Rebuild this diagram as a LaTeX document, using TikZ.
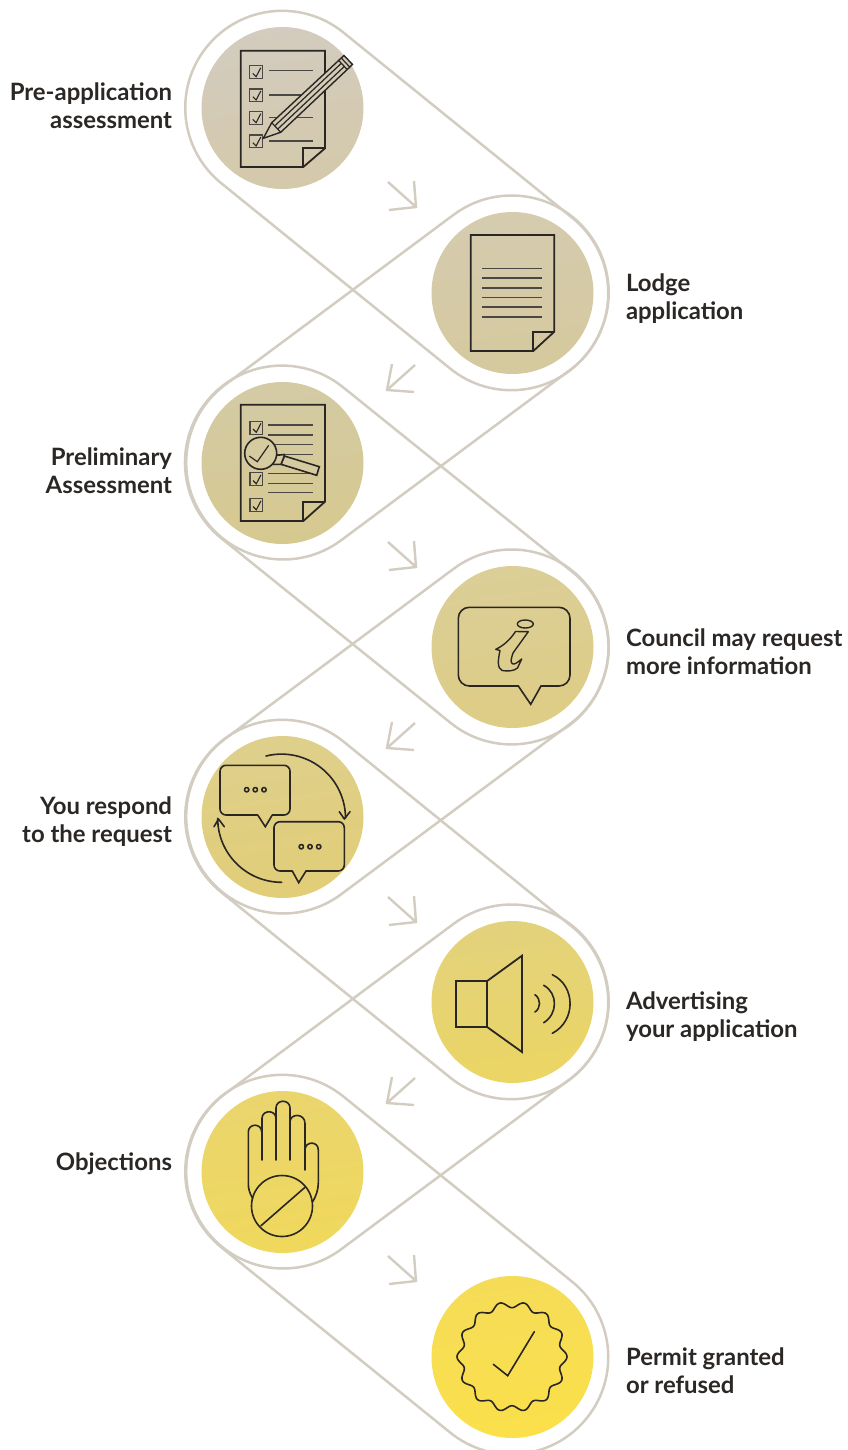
\documentclass[tikz,border=0pt]{standalone}
\usepackage{fontspec}
\setmainfont{Lato}[BoldFont={Lato Bold}]
\definecolor{rim}{HTML}{D3CDC1}
\definecolor{ink}{HTML}{2A2623}
\definecolor{lab}{HTML}{2B2725}
\definecolor{at}{HTML}{D3CCBF}\definecolor{ab}{HTML}{D4C9AA}
\definecolor{bt}{HTML}{D5CBAF}\definecolor{bb}{HTML}{D5C99D}
\definecolor{ct}{HTML}{D4CAA5}\definecolor{cb}{HTML}{D6C98F}
\definecolor{dt}{HTML}{DBCE97}\definecolor{db}{HTML}{DECD85}
\definecolor{et}{HTML}{DECF8C}\definecolor{eb}{HTML}{E2CE77}
\definecolor{ft}{HTML}{E3D27D}\definecolor{fb}{HTML}{EBD563}
\definecolor{gt}{HTML}{EAD56E}\definecolor{gb}{HTML}{F0D85C}
\definecolor{ht}{HTML}{F5DC58}\definecolor{hb}{HTML}{FBE04A}
\definecolor{pbg}{HTML}{D3CBB6}
\definecolor{mbg}{HTML}{D5CAA0}
\tikzset{
  outerring/.style={circle,minimum size=194pt,inner sep=0pt,outer sep=0pt},
  disc/.style n args={2}{circle,minimum size=162pt,inner sep=0pt,outer sep=0pt,top color=#1,bottom color=#2,shading angle=8},
  capsule/.style={draw=rim,line width=2.5pt,line join=round},
  chev/.style={draw=rim,line width=2.4pt,line cap=butt},
  icon/.style={draw=ink,line width=1.8pt,line join=miter},
  fine/.style={draw=ink,line width=1.6pt,line join=round,line cap=round},
  boxline/.style={draw=ink!85!white,line width=1.2pt},
  lbl/.style={inner sep=0pt,outer sep=0pt,text=lab,font=\fontsize{23.9}{28}\selectfont\bfseries},
  leftlbl/.style={lbl,anchor=east,align=right},
  rightlbl/.style={lbl,anchor=west,align=left},
}
\newcommand\capsuleline[3]{%
  \pgfmathsetmacro\oppang{#3+180}%
  \draw[capsule] (#1.#3) -- (#2.#3) arc[start angle=#3,delta angle=-180,radius=97pt]
    -- (#1.\oppang) arc[start angle=\oppang,delta angle=-180,radius=97pt] -- cycle;}
\newcommand\chevR[1]{\draw[chev,shift={(#1)}] (-28,-25) -- (0,0) (-2,-26) -- (0,0) -- (-27,3);}
\newcommand\chevL[1]{\draw[chev,shift={(#1)}] (28,-25) -- (0,0) (5,-26) -- (0,0) -- (27,2);}
\newcommand\ckbox[2]{%
  \draw[boxline,shift={(#1,#2)}] (0,0) rectangle (12.8,12.8);
  \draw[draw=ink,line width=1.1pt,shift={(#1,#2)}] (3,7.7) -- (6.3,11) -- (11,2);}
\newcommand\pagesheet[6]{% x0 y0 x1 y1 foldx foldy
  \draw[icon] (#1,#2) -- (#3,#2) -- (#3,#6) -- (#5,#4) -- (#1,#4) -- cycle;
  \draw[icon] (#5,#4) -- (#5,#6) -- (#3,#6);}
\begin{document}
\begin{tikzpicture}[x=1pt,y=-1pt]
\clip (0,0) rectangle (847,1450);
% outer rings (invisible anchors for the capsules)
\foreach \n/\px/\py in {a/282.5/108,b/511/293,c/282.5/463,d/511/647,e/282.5/817,f/511/1002,g/282.5/1172,h/511/1357}
  \node[outerring] (\n-out) at (\px,\py) {};
% capsules
\capsuleline{a-out}{b-out}{51.2}
\capsuleline{b-out}{c-out}{-53.5}
\capsuleline{c-out}{d-out}{51.4}
\capsuleline{d-out}{e-out}{-53.5}
\capsuleline{e-out}{f-out}{51.2}
\capsuleline{f-out}{g-out}{-53.5}
\capsuleline{g-out}{h-out}{51.2}
% discs
\node[disc={at}{ab}] (a) at (282.5,108) {};
\node[disc={bt}{bb}] (b) at (512.5,293) {};
\node[disc={ct}{cb}] (c) at (282.5,463) {};
\node[disc={dt}{db}] (d) at (512.5,647) {};
\node[disc={et}{eb}] (e) at (282.5,817) {};
\node[disc={ft}{fb}] (f) at (512.5,1002) {};
\node[disc={gt}{gb}] (g) at (282.5,1172) {};
\node[disc={ht}{hb}] (h) at (512.5,1357) {};
% chevrons
\chevR{416,207}\chevL{387,390}\chevR{416,567}\chevL{387,748}\chevR{416,922}\chevL{387,1103}\chevR{416,1281}
% icon a
\pagesheet{240.7}{50.7}{325}{167}{303.3}{148.3}
\ckbox{249.8}{65.7}\ckbox{249.8}{89}\ckbox{249.8}{111.7}\ckbox{249.8}{135}
\foreach \yy in {70.3,95,117.7,141} \draw[boxline,line width=1.4pt] (269.3,\yy) -- (312.7,\yy);
\draw[icon,line width=1.4pt,fill=pbg] (263.3,138.3) -- (271.7,122.7) -- (344,55.5) -- (352.5,64.5) -- (280.7,132.3) -- cycle;
\draw[icon,line width=1.2pt] (271.7,122.7) -- (280.7,132.3)
  (274.7,125.9) -- (341.3,63.3) (277.7,129.1) -- (344.3,66.5)
  (338.3,60) -- (347,69.3) (341,57.7) -- (349.7,67);
% icon b
\pagesheet{470.7}{235}{554.3}{351}{533.3}{331.7}
\foreach \yy in {268.3,278,287.7,297.3,307,316.7} \draw[boxline,line width=1.6pt] (482,\yy) -- (542.3,\yy);
% icon c
\pagesheet{240.7}{404.7}{325}{521}{303.3}{501.7}
\ckbox{250}{421.3}\ckbox{250}{472.8}\ckbox{250}{498.8}
\foreach \yy in {425,435,444.7,454.3,473.7,483.3,492.7} \draw[boxline,line width=1.5pt] (268,\yy) -- (312.7,\yy);
\draw[icon,line width=1.6pt,fill=mbg] (284.3,456) -- (319.3,466.7) -- (316.7,475.3) -- (281,464.3) -- cycle;
\draw[icon,line width=1.6pt,fill=mbg] (275.3,455.5) -- (284,454.5) -- (284.3,456) -- (281,464.3) -- (272.7,464.3);
\draw[icon,line width=1.6pt,fill=mbg] (260.7,453.3) circle[radius=16pt];
\draw[icon,line width=1.2pt] (249.3,456) -- (257.3,461.7) -- (268.7,445.3);
% icon d
\draw[fine,rounded corners=11pt] (518.3,686) -- (458.3,686) -- (458.3,607.3) -- (570,607.3) -- (570,686) -- (541,686);
\draw[fine,line join=miter] (518.3,686) -- (530.7,704.3) -- (541,686);
\draw[fine,line width=1.4pt] (525.3,624) ellipse[x radius=8pt,y radius=4pt];
\draw[fine,line width=1.4pt] (528.3,631.7) -- (515.5,631.5) .. controls (510,640) and (503,646) .. (495.7,649.3) -- (500,650.5)
  .. controls (498,660) and (497,668) .. (502,670.5) .. controls (508,671.5) and (514,671) .. (517.5,668) -- (521.7,659)
  .. controls (518,662) and (515,664.5) .. (513,664) .. controls (510,663) and (511,659) .. (513,653) -- cycle;
% icon e
\draw[fine,rounded corners=6pt] (257.7,815) -- (220,815) -- (220,765.3) -- (290,765.3) -- (290,815) -- (272.3,815);
\draw[fine,line join=miter] (257.7,815) -- (265.3,826.7) -- (272.3,815);
\foreach \xx in {246.7,255.3,264} \draw[fine] (\xx,789.7) circle[radius=2.2pt];
\draw[fine,rounded corners=6pt] (292.3,871) -- (274,871) -- (274,821.7) -- (344.3,821.7) -- (344.3,871) -- (306,871);
\draw[fine,line join=miter] (292.3,871) -- (298.7,882.7) -- (306,871);
\foreach \xx in {301.3,310,318.7} \draw[fine] (\xx,846.7) circle[radius=2.2pt];
\draw[fine] (266,756) arc[start angle=104,end angle=0,radius=64pt];
\draw[fine] (339.3,811.7) -- (344.3,819) -- (350,811.7);
\draw[fine] (281.7,882.3) arc[start angle=-90,end angle=-180,radius=64pt];
\draw[fine] (214,826.7) -- (218.5,819) -- (224.3,826.7);
% icon f
\draw[icon] (456,981.3) rectangle (486.7,1026.7);
\draw[icon] (486.7,981.3) -- (522,955.7) -- (522,1052) -- (486.7,1026.7);
\draw[fine] (535,994.7) .. controls (541,999) and (541,1008) .. (535,1012);
\draw[fine] (543.7,985.3) .. controls (558,993) and (558,1014) .. (543.7,1022.7);
\draw[fine] (552.3,974.7) .. controls (576,986) and (576,1021) .. (552.3,1033.3);
% icon g
\draw[fine] (252.7,1198.3) .. controls (249.5,1193) and (248.3,1189) .. (248.3,1183) -- (248.3,1132)
  .. controls (248.3,1123) and (261.7,1123) .. (261.7,1132);
\draw[fine] (262,1160) -- (262,1118.5) .. controls (262,1109.5) and (276,1109.5) .. (276,1118.5);
\draw[fine] (276,1160) -- (276,1108) .. controls (276,1099) and (290,1099) .. (290,1108) -- (290,1160);
\draw[fine] (290,1122) .. controls (290,1113) and (305,1113) .. (305,1123.5) -- (305,1170);
\draw[fine] (305,1149) .. controls (306,1141) and (318.3,1141) .. (318.3,1150) -- (318.3,1183) .. controls (318.3,1190) and (316,1196) .. (312.7,1201.7);
\draw[fine] (282,1206) circle[radius=30.5pt];
\draw[fine] (305,1187.3) -- (261,1225.7);
% icon h
\draw[fine] plot[variable=\t,domain=0:360,samples=253,smooth] ({512+(52+3*cos(14*\t))*cos(\t)},{1356.7+(52+3*cos(14*\t))*sin(\t)}) -- cycle;
\draw[fine,line join=miter] (493.3,1364.3) -- (507.7,1375.7) -- (534.3,1331.7);
% labels
\node[leftlbl] (la) at (172,105.5) {Pre-application\\assessment};
\node[rightlbl] (lb) at (626,299) {Lodge\\application};
\node[leftlbl] (lc) at (172,470.5) {Preliminary\\Assessment};
\node[rightlbl] (ld) at (626,651.5) {Council may request\\more information};
\node[leftlbl] (le) at (172,821.5) {You respond\\to the request};
\node[rightlbl] (lf) at (626,1016.5) {Advertising\\your application};
\node[leftlbl] (lg) at (172,1164) {Objections};
\node[rightlbl] (lh) at (626,1370.5) {Permit granted\\or refused};
\end{tikzpicture}
\end{document}
